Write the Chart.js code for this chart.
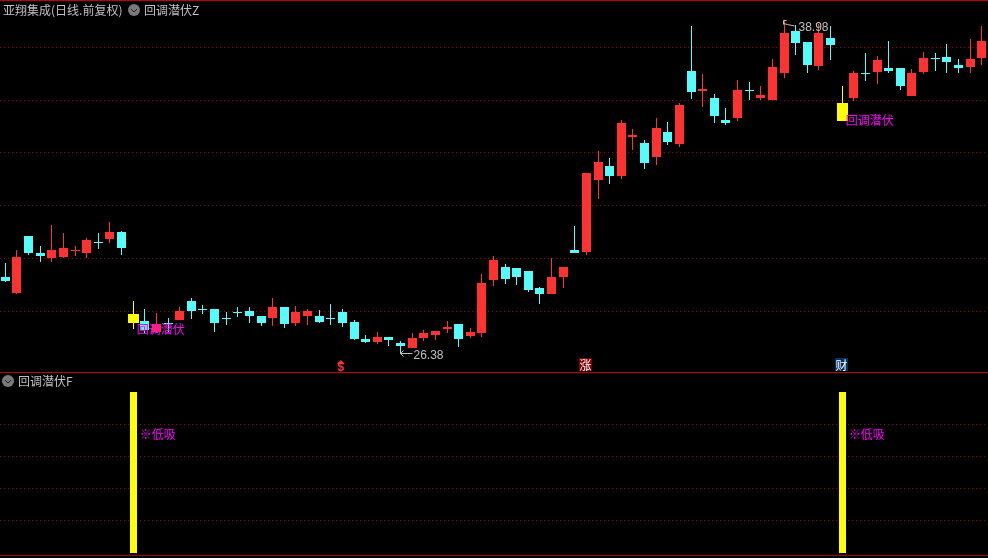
<!DOCTYPE html>
<html>
<head>
<meta charset="utf-8">
<title>回调潜伏</title>
<script src="https://cdn.jsdelivr.net/npm/chart.js@4/dist/chart.umd.min.js"></script>
<style>
  html, body { margin: 0; padding: 0; background: #000; overflow: hidden; }
  canvas { position: absolute; left: 0; }
  #chart-main { top: 0; }
  #chart-sub { top: 373px; }
  .rule { position: absolute; left: 0; width: 988px; height: 1px; background: #c00000; }
</style>
</head>
<body>
<canvas id="chart-main" width="988" height="372"></canvas>
<canvas id="chart-sub" width="988" height="182"></canvas>
<div class="rule" style="top:0"></div>
<div class="rule" style="top:372px"></div>
<div class="rule" style="top:555px;background:#a00000"></div>
<script>
// daily candles
var opens = [29.30,28.69,30.85,30.21,30.02,30.06,30.27,30.21,30.63,30.74,31.00,27.56,27.63,27.22,27.57,27.67,28.39,28.09,28.09,27.75,
  27.97,28.01,27.82,27.75,28.16,27.56,27.82,27.82,27.75,27.97,27.60,26.95,26.84,27.03,26.80,26.61,26.99,27.10,27.33,27.52,
  27.07,27.18,29.19,29.68,29.64,29.53,28.88,28.66,29.30,30.32,30.25,32.97,33.50,33.13,34.60,34.38,33.85,34.79,34.34,37.10,
  36.35,36.08,35.25,35.32,36.38,36.08,36.00,37.03,38.62,38.20,37.29,38.35,35.21,36.08,37.03,37.07,37.22,37.22,36.16,37.07,
  37.60,37.63,37.33,37.25,37.60];
var highs = [29.83,30.32,30.85,30.47,31.27,30.97,30.47,30.78,30.97,31.38,31.04,28.39,28.09,27.94,27.75,28.16,28.50,28.24,28.09,27.97,
  28.16,28.16,27.82,28.50,28.16,28.20,28.09,28.05,28.28,28.09,27.67,27.10,27.22,27.03,26.88,27.18,27.29,27.25,27.63,27.52,
  27.37,29.41,30.10,29.79,29.64,29.53,28.92,30.02,29.68,31.23,33.24,34.07,33.81,35.25,34.91,34.49,35.32,35.17,35.89,38.81,
  36.99,36.23,35.70,36.76,36.69,36.53,37.56,38.98,38.85,38.20,38.88,38.81,36.53,37.10,37.78,37.67,38.24,37.22,37.18,37.82,
  37.78,38.13,37.56,38.32,38.81];
var lows = [29.11,28.66,30.13,29.87,29.87,30.02,30.10,30.02,30.36,30.59,30.13,27.33,27.17,27.17,27.23,27.67,27.71,27.90,27.22,27.48,
  27.78,27.56,27.44,27.44,27.37,27.44,27.48,27.56,27.48,27.41,26.91,26.80,26.76,26.69,26.38,26.61,26.88,26.91,27.18,26.65,
  26.99,27.03,28.96,29.03,29.00,28.73,28.28,28.66,28.88,30.21,30.13,32.25,32.82,33.01,34.11,33.39,33.54,34.30,34.22,36.04,
  35.74,35.13,35.06,35.21,36.00,36.00,36.00,36.84,37.71,37.03,37.14,37.52,35.21,35.97,36.72,36.61,37.03,36.38,36.16,36.99,
  37.10,37.03,37.03,37.03,37.33];
var closes = [29.15,30.06,30.21,30.10,30.32,30.40,30.31,30.70,30.59,31.00,30.40,27.90,27.29,27.52,27.54,28.01,28.01,28.06,27.56,27.72,
  27.95,27.82,27.56,28.16,27.52,27.97,28.01,27.60,27.72,27.56,26.95,26.84,27.03,26.91,26.69,26.99,27.18,27.25,27.41,26.95,
  27.22,29.07,29.94,29.22,29.30,28.81,28.66,29.30,29.68,30.21,33.24,33.66,33.13,35.13,34.68,33.62,34.94,34.41,35.82,36.31,
  36.42,35.40,35.13,36.38,36.35,36.19,37.25,38.54,38.16,37.33,38.54,38.09,35.89,37.03,37.00,37.52,37.10,36.53,37.03,37.60,
  37.56,37.44,37.22,37.56,38.24];

var signalDays = [11, 72];
var signalLevels = [1, 1];
var signalTextLevel = 0.738;
var priceGrid = [28, 30, 32, 34, 36, 38];
var subGrid = [0.2, 0.4, 0.6, 0.8];

var lowDay = 34;
var highDay = 67;
var dollarDay = 29;
var riseDay = 50;
var wealthDay = 72;

var stockTitle = "亚翔集成(日线.前复权)";
var mainTitle = "回调潜伏Z";
var subTitle = "回调潜伏F";
var signalName = "回调潜伏";
var signalTag = "※低吸";

var RED = "#ff3232";
var CYAN = "#54fcfc";
var YELLOW = "#ffff00";
var MAGENTA = "#ff00ff";
var GRAY = "#c0c0c0";
var GRID = "#a00000";
var CJK = '12px "Noto Sans CJK SC"';
var NUM = '12px "Liberation Sans"';

var days = opens.map(function (_, i) { return i; });

function isSignal(i) {
  return signalDays.indexOf(i) >= 0;
}

function candleColor(i) {
  if (isSignal(i)) return YELLOW;
  return closes[i] >= opens[i] ? RED : CYAN;
}

// keep the marks on whole pixels, the reference has no soft edges
var crispBars = {
  id: "crispBars",
  beforeDatasetsDraw: function (chart) {
    chart.data.datasets.forEach(function (ds, d) {
      chart.getDatasetMeta(d).data.forEach(function (el) {
        el.x = Math.floor(el.x - 0.5) + 0.5;
        el.y = Math.round(el.y);
        el.base = Math.round(el.base);
        if (el.y === el.base) el.base += 1;
      });
    });
  },
};

function drawMenuDot(ctx, x, y) {
  ctx.fillStyle = "#7a7a7a";
  ctx.beginPath();
  ctx.arc(x, y, 6, 0, Math.PI * 2);
  ctx.fill();
  ctx.strokeStyle = "#222";
  ctx.lineWidth = 1;
  ctx.beginPath();
  ctx.moveTo(x - 3, y - 1);
  ctx.lineTo(x, y + 2);
  ctx.lineTo(x + 3, y - 1);
  ctx.stroke();
}

function drawText(ctx, text, x, y, color, font) {
  ctx.font = font;
  ctx.fillStyle = color;
  ctx.textAlign = "left";
  ctx.textBaseline = "middle";
  ctx.fillText(text, x, y);
}

function drawBadge(ctx, text, cx, bg) {
  ctx.fillStyle = bg;
  ctx.fillRect(cx - 6, 358, 13, 13);
  ctx.font = CJK;
  ctx.fillStyle = "#fff";
  ctx.textAlign = "center";
  ctx.textBaseline = "middle";
  ctx.fillText(text, cx + 0.5, 365);
}

var mainLabels = {
  id: "mainLabels",
  afterDatasetsDraw: function (chart) {
    var ctx = chart.ctx;
    var xs = chart.scales.x;
    var ys = chart.scales.y;
    ctx.save();

    drawText(ctx, stockTitle, 3, 10, GRAY, CJK);
    drawMenuDot(ctx, 134, 10);
    drawText(ctx, mainTitle, 144, 10, GRAY, CJK);

    signalDays.forEach(function (d) {
      drawText(ctx, signalName, xs.getPixelForValue(d) + 3, ys.getPixelForValue(lows[d]), MAGENTA, CJK);
    });

    // lowest price
    var lx = Math.floor(xs.getPixelForValue(lowDay)) - 0.5;
    var ly = Math.round(ys.getPixelForValue(lows[lowDay])) - 0.5;
    ctx.strokeStyle = GRAY;
    ctx.lineWidth = 1;
    ctx.beginPath();
    ctx.moveTo(lx + 12, ly);
    ctx.lineTo(lx, ly);
    ctx.moveTo(lx + 3, ly - 3);
    ctx.lineTo(lx, ly);
    ctx.lineTo(lx + 3, ly + 3);
    ctx.stroke();
    drawText(ctx, lows[lowDay].toFixed(2), lx + 13, ly + 2, GRAY, NUM);

    // highest price
    var hx = Math.floor(xs.getPixelForValue(highDay)) - 0.5;
    var hy = Math.round(ys.getPixelForValue(highs[highDay])) - 0.5;
    ctx.beginPath();
    ctx.moveTo(hx, hy + 4);
    ctx.lineTo(hx, hy);
    ctx.lineTo(hx + 3, hy);
    ctx.moveTo(hx, hy + 3);
    ctx.lineTo(hx + 4, hy + 4);
    ctx.lineTo(hx + 11, hy + 5.5);
    ctx.stroke();
    drawText(ctx, highs[highDay].toFixed(2), hx + 15, hy + 7, GRAY, NUM);

    // event marks along the bottom of the pane
    var dx = xs.getPixelForValue(dollarDay) - 2;
    ctx.fillStyle = RED;
    ctx.beginPath();
    ctx.moveTo(dx, 360);
    ctx.lineTo(dx + 4, 364);
    ctx.lineTo(dx - 4, 364);
    ctx.fill();
    ctx.font = 'bold 12px "Liberation Sans"';
    ctx.textAlign = "center";
    ctx.textBaseline = "middle";
    ctx.fillText("$", dx, 368);
    drawBadge(ctx, "涨", Math.floor(xs.getPixelForValue(riseDay)) - 1, "#800000");
    drawBadge(ctx, "财", Math.floor(xs.getPixelForValue(wealthDay)) - 1, "#003366");

    ctx.restore();
  },
};

var subLabels = {
  id: "subLabels",
  afterDatasetsDraw: function (chart) {
    var ctx = chart.ctx;
    var xs = chart.scales.x;
    var ys = chart.scales.y;
    ctx.save();
    drawMenuDot(ctx, 8, 8);
    drawText(ctx, subTitle, 18, 8, GRAY, CJK);
    signalDays.forEach(function (d) {
      drawText(ctx, signalTag, xs.getPixelForValue(d) + 6, ys.getPixelForValue(signalTextLevel), MAGENTA, CJK);
    });
    ctx.restore();
  },
};

function buildAxes(min, max, gridValues) {
  return {
    x: { type: "category", display: false },
    y: {
      min: min,
      max: max,
      afterBuildTicks: function (axis) {
        axis.ticks = gridValues.map(function (v) { return { value: v }; });
      },
      ticks: { display: false },
      border: { display: false, dash: [1, 3] },
      grid: { color: GRID, lineWidth: 1, drawTicks: false },
    },
  };
}

var COMMON_OPTIONS = {
  responsive: false,
  animation: false,
  devicePixelRatio: 1,
  layout: { padding: 0 },
  plugins: { legend: { display: false }, tooltip: { enabled: false } },
};

new Chart(document.getElementById("chart-main"), {
  type: "bar",
  data: {
    labels: days,
    datasets: [
      {
        label: "signal body",
        data: days.map(function (i) { return isSignal(i) ? [opens[i], closes[i]] : null; }),
        backgroundColor: YELLOW,
        barThickness: 11,
        grouped: false,
        inflateAmount: 0,
        borderWidth: 0,
      },
      {
        label: "body",
        data: days.map(function (i) { return isSignal(i) ? null : [opens[i], closes[i]]; }),
        backgroundColor: days.map(candleColor),
        barThickness: 9,
        grouped: false,
        inflateAmount: 0,
        borderWidth: 0,
      },
      {
        label: "wick",
        data: days.map(function (i) { return [lows[i], highs[i]]; }),
        backgroundColor: days.map(candleColor),
        barThickness: 1,
        grouped: false,
        inflateAmount: 0,
        borderWidth: 0,
      },
    ],
  },
  options: Object.assign({}, COMMON_OPTIONS, { scales: buildAxes(25.7, 39.79, priceGrid) }),
  plugins: [crispBars, mainLabels],
});

new Chart(document.getElementById("chart-sub"), {
  type: "bar",
  data: {
    labels: days,
    datasets: [
      {
        label: "signal",
        data: days.map(function (i) {
          var n = signalDays.indexOf(i);
          return n >= 0 ? signalLevels[n] : null;
        }),
        backgroundColor: YELLOW,
        barThickness: 7,
        grouped: false,
        inflateAmount: 0,
        borderWidth: 0,
      },
    ],
  },
  options: Object.assign({}, COMMON_OPTIONS, { scales: buildAxes(-0.0124, 1.118, subGrid) }),
  plugins: [crispBars, subLabels],
});
</script>
</body>
</html>
